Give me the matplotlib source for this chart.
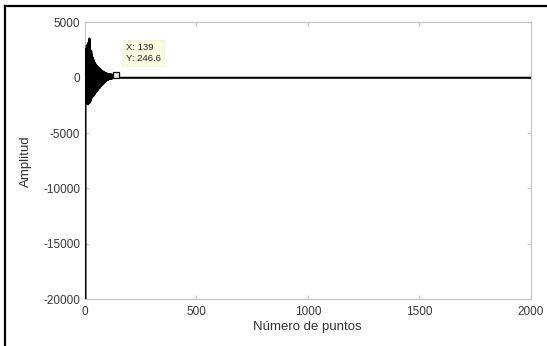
import numpy as np
import matplotlib.pyplot as plt
from matplotlib.lines import Line2D

# ── Data ──
head = [
    0, -26000, 1800, -1500, 2400, -2100, 2600, -1900, 2900, -2300,
    2700, -2200, 3000, -2400, 2800, -2000, 3200, -2300, 2900, -2100,
    3550, -2250, 2700, -1900, 2500, -2100, 2300, -1800, 2400, -1700,
    2100, -1800, 1900, -1600, 1800, -1700, 1700, -1500, 1600, -1600,
    1500, -1400, 1400, -1500, 1300, -1300, 1250, -1350, 1200, -1200,
    1150, -1250, 1100, -1100, 1050, -1150, 1000, -1000, 950, -1050,
    900, -950, 880, -900, 850, -850, 820, -900, 800, -800,
    750, -750, 700, -700, 650, -650, 620, -600, 600, -560,
    560, -520, 530, -480, 500, -440, 480, -400, 460, -360,
    440, -330, 420, -300, 400, -270, 380, -240, 360, -210,
    350, -190, 340, -170, 330, -150, 320, -130, 310, -110,
    300, -100, 295, -90, 290, -80, 285, -70, 280, -60,
    275, -50, 270, -40, 265, -30, 260, -20, 255, -10,
    252, 0, 250, 10, 249, 20, 248, 30, 247, 246.6,
    200, 150, 100, 60, 30, 10, 5, 0, 0, 0,
]
n_points = 2001
amplitude = np.array(head + [0.0] * (n_points - len(head)))
samples = np.arange(n_points)

tip_x, tip_y = 139, 246.6
x_ticks = [0, 500, 1000, 1500, 2000]
y_ticks = [-20000, -15000, -10000, -5000, 0, 5000]

plt.rcParams['font.family'] = ['Liberation Sans', 'DejaVu Sans']
plt.rcParams['axes.unicode_minus'] = False

fig = plt.figure(figsize=(5.47, 3.46), dpi=100)
ax = fig.add_axes([0.1554, 0.1358, 0.8146, 0.7992])

ax.plot(samples, amplitude, color='black', linewidth=1.5, zorder=5)

# data tip
ax.plot(tip_x, tip_y, 's', markersize=4.5, markerfacecolor='#e8e8e8',
        markeredgecolor='black', markeredgewidth=0.9, zorder=6)
ax.annotate(f'X: {tip_x}\nY: {tip_y}', xy=(tip_x, tip_y), xytext=(7, 9),
            textcoords='offset points', fontsize=6.8, color='#222222',
            linespacing=1.25, va='bottom', ha='left', zorder=7,
            bbox=dict(boxstyle='square,pad=0.35', fc='#fbfbe0', ec='#f0f0d8', lw=0.5))

ax.set_xlim(0, 2000)
ax.set_ylim(-20000, 5000)
ax.set_xticks(x_ticks)
ax.set_yticks(y_ticks)
ax.tick_params(direction='in', length=3, width=0.6, color='#bbbbbb',
               labelsize=8.5, labelcolor='#3a3a3a', top=True, right=True)
ax.tick_params(axis='x', pad=5)
for s in ax.spines.values():
    s.set_color('#c4c4c4')
    s.set_linewidth(0.9)

ax.set_xlabel('Número de puntos', fontsize=9.5, color='#333333', labelpad=2.5)
ax.set_ylabel('Amplitud', fontsize=9.5, color='#333333', labelpad=8)

# outer frame of the screenshot (top and left edges)
fig.add_artist(Line2D([5 / 547, 1.0], [1 - 6 / 346, 1 - 6 / 346],
                      transform=fig.transFigure, color='black', linewidth=1.6))
fig.add_artist(Line2D([5 / 547, 5 / 547], [0.0, 1 - 6 / 346],
                      transform=fig.transFigure, color='black', linewidth=1.6))

fig.savefig('out.png', dpi=100)
